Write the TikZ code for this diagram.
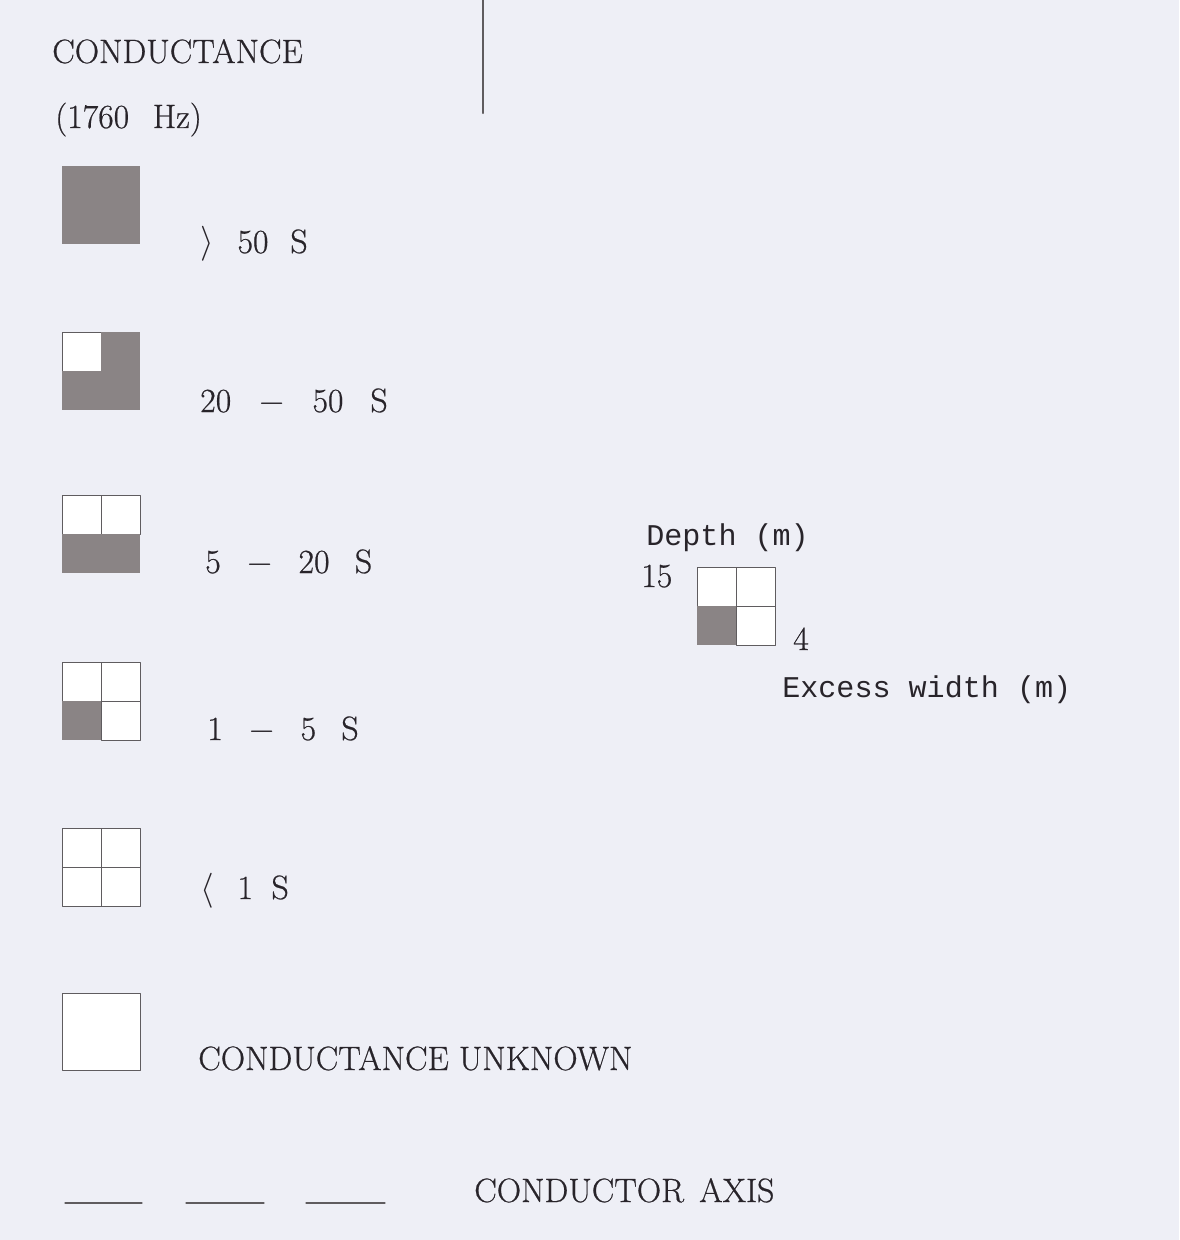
\documentclass[tikz,border=0pt]{standalone}
\usepackage{fontspec}
\setmainfont{Latin Modern Roman}[FakeBold=0.6]
\newfontfamily\typewriter{Liberation Mono}
\definecolor{paper}{RGB}{238,239,246}
\definecolor{ink}{RGB}{40,36,42}
\definecolor{rule}{RGB}{95,92,95}
\definecolor{cellgrey}{RGB}{138,132,133}
% one quarter of a legend square: x, y, dark (1) or open (0)
\newcommand{\qcell}[3]{%
  \ifnum#3=1
    \fill[cellgrey] (#1,#2) rectangle ++(39,39);
  \else
    \filldraw[fill=white, draw=rule, line width=0.6pt] (#1,#2) rectangle ++(39,39);
  \fi}

\begin{document}
\begin{tikzpicture}[x=0.025cm, y=-0.025cm, line cap=round, line join=round,
  lbl/.style={anchor=base west, inner sep=0pt, text=ink, font=\fontsize{24}{28}\selectfont},
  mlbl/.style={lbl, font=\typewriter\fontsize{21.4}{26}\selectfont}]
\fill[paper] (0,0) rectangle (1179,1240);
\useasboundingbox (0,0) rectangle (1179,1240);

\node[lbl] (title) at (52,63) {CONDUCTANCE};
\node[lbl] (freq) at (55,128) {(1760\hspace{0.7em}Hz)};

\coordinate (vtop) at (483,0);
\coordinate (vbot) at (483,113);
\draw[rule, line width=1.5pt] (vtop) -- (vbot);

% legend squares
\foreach \n/\yy/\tl/\tr/\bl/\br in {1/166/1/1/1/1, 2/332/0/1/1/1, 3/495/0/0/1/1,
    4/662/0/0/1/0, 5/828/0/0/0/0}{
  \qcell{62}{\yy}{\tl} \qcell{101}{\yy}{\tr}
  \qcell{62}{\yy+39}{\bl} \qcell{101}{\yy+39}{\br}
}
\filldraw[fill=white, draw=rule, line width=0.6pt] (62,993) rectangle (140,1070);

\node[lbl] (gt50) at (200,253) {$\rangle$\hspace{0.7em}50\hspace{0.65em}S};
\node[lbl] (r2050) at (200,412) {20\hspace{0.8em}$-$\hspace{0.8em}50\hspace{0.8em}S};
\node[lbl] (r520) at (205,573) {5\hspace{0.75em}$-$\hspace{0.75em}20\hspace{0.75em}S};
\node[lbl] (r15) at (207,740) {1\hspace{0.75em}$-$\hspace{0.75em}5\hspace{0.75em}S};
\node[lbl] (lt1) at (200,899) {$\langle$\hspace{0.7em}1\hspace{0.55em}S};
\node[lbl] (unknown) at (198,1070) {CONDUCTANCE UNKNOWN};

% conductor axis
\foreach \a/\b [count=\i] in {65/142, 186/264, 306/385}{
  \coordinate (axa\i) at (\a,1203);
  \coordinate (axb\i) at (\b,1203);
  \draw[rule, line width=0.8pt] (axa\i) -- (axb\i);
}
\node[lbl] (axis) at (474,1202) {CONDUCTOR\hspace{0.45em}AXIS};

% key to the squares
\node[mlbl] (depth) at (646,545) {Depth (m)};
\node[lbl] (dval) at (641,587) {15};
\qcell{697}{567}{0} \qcell{736}{567}{0}
\qcell{697}{606}{1} \qcell{736}{606}{0}
\node[lbl] (wval) at (793,650) {4};
\node[mlbl] (excess) at (782,697) {Excess width (m)};
\end{tikzpicture}
\end{document}
